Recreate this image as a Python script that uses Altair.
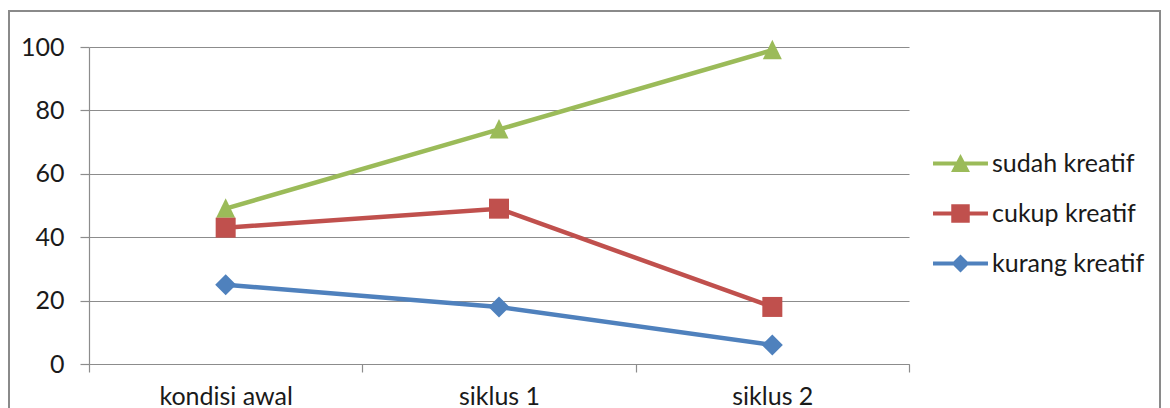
import altair as alt
import pandas as pd

categories = ["kondisi awal", "siklus 1", "siklus 2"]
series_names = ["sudah kreatif", "cukup kreatif", "kurang kreatif"]
sudah = [49, 74, 99]
cukup = [43, 49, 18]
kurang = [25, 18, 6]
y_ticks = [0, 20, 40, 60, 80, 100]
colors = ["#9BBB59", "#C0504D", "#4F81BD"]

rows = []
for name, vals in zip(series_names, [sudah, cukup, kurang]):
    for i, (c, v) in enumerate(zip(categories, vals)):
        rows.append({"series": name, "category": c, "pos": i + 0.5, "value": v})
df = pd.DataFrame(rows)

FONT = "Lato"
TXT = "#1a1a1a"
GRAY = "#8c8c8c"

cat_js = "[" + ",".join("'" + c + "'" for c in categories) + "]"
x_vals = [k / 2 for k in range(0, 2 * len(categories) + 1)]

x_enc = alt.X(
    "pos:Q",
    scale=alt.Scale(domain=[0, len(categories)], nice=False, zero=False),
    axis=alt.Axis(
        values=x_vals,
        labelExpr=f"datum.value % 1 == 0 ? '' : {cat_js}[floor(datum.value)]",
        tickOpacity={"condition": {"test": "datum.value % 1 == 0", "value": 1}, "value": 0},
        grid=False,
        title=None,
        domainColor=GRAY,
        domainWidth=1.2,
        tickColor=GRAY,
        tickWidth=1.2,
        tickSize=8,
        labelPadding=12,
        labelFont=FONT,
        labelFontSize=25,
        labelColor=TXT,
        labelOverlap=False,
        labelFlush=False,
        labelBound=False,
    ),
)
y_enc = alt.Y(
    "value:Q",
    scale=alt.Scale(domain=[0, 100], nice=False),
    axis=alt.Axis(
        values=y_ticks,
        grid=True,
        gridColor=GRAY,
        gridWidth=1.2,
        title=None,
        domainColor=GRAY,
        domainWidth=1.2,
        tickColor=GRAY,
        tickWidth=1.2,
        tickSize=9,
        labelPadding=16,
        labelFont=FONT,
        labelFontSize=25,
        labelColor=TXT,
    ),
)

point_shapes = [
    "M0,-1.1L1,0.95L-1,0.95Z",
    "square",
    "diamond",
]
point_sizes = [361, 400, 441]

stub = "M-2.29,-0.17H2.29V0.17H-2.29Z"
legend_paths = [
    stub + "M0,-0.8L0.79,0.7L-0.79,0.7Z",
    stub + "M-0.77,-0.77H0.77V0.77H-0.77Z",
    stub + "M0,-0.75L0.75,0L0,0.75L-0.75,0Z",
]

border = alt.Chart(alt.Data(values=[{"a": 1}])).mark_rect(
    fillOpacity=0, stroke="#8a8a8a", strokeWidth=2
).encode(
    x=alt.value(-80), x2=alt.value(1071), y=alt.value(-36), y2=alt.value(440)
)

layers = [border]
for name, col, shp, sz in zip(series_names, colors, point_shapes, point_sizes):
    base = alt.Chart(df).transform_filter(alt.datum.series == name)
    layers.append(base.mark_line(color=col, strokeWidth=4.5).encode(x=x_enc, y=y_enc))
    layers.append(
        base.mark_point(filled=True, shape=shp, size=sz, color=col, opacity=1).encode(
            x=x_enc, y=y_enc
        )
    )

leg = alt.Legend(
    orient="none",
    legendX=859,
    legendY=104,
    title=None,
    labelFont=FONT,
    labelFontSize=25,
    labelColor=TXT,
    symbolSize=576,
    symbolStrokeWidth=0,
    symbolOpacity=1,
    rowPadding=24,
    labelOffset=19,
    padding=0,
)
legend_layer = (
    alt.Chart(df)
    .transform_filter("false")
    .mark_point(filled=True)
    .encode(
        x=x_enc,
        y=y_enc,
        color=alt.Color("series:N", scale=alt.Scale(domain=series_names, range=colors), legend=leg),
        shape=alt.Shape("series:N", scale=alt.Scale(domain=series_names, range=legend_paths), legend=leg),
    )
)
layers.append(legend_layer)

chart = (
    alt.layer(*layers)
    .properties(
        width=820,
        height=317,
        autosize=alt.AutoSizeParams(type="none"),
        padding={"left": 81, "top": 39, "right": 253, "bottom": 44},
        background="white",
    )
    .configure_view(stroke=None)
)

chart.save("out.html", embed_options={"renderer": "svg", "actions": False})
